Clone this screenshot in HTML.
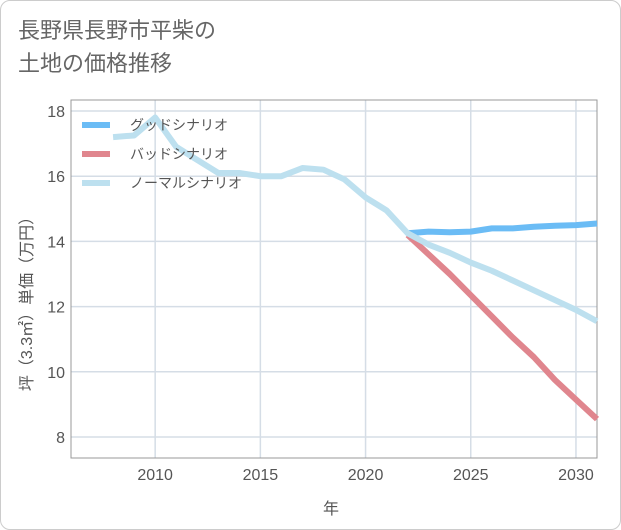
<!DOCTYPE html>
<html><head><meta charset="utf-8"><style>
body{margin:0;background:#fff;}
#wrap{position:relative;width:621px;height:530px;font-family:"Liberation Sans","Noto Sans CJK JP",sans-serif;}
.frame{position:absolute;left:0;top:0;width:619px;height:528px;border:1px solid #ccc;border-radius:10px;}
.title{position:absolute;left:18px;top:14px;font-size:22px;line-height:33px;color:#666;}
</style></head><body>
<div id="wrap">
<div class="frame"></div>
<div class="title">長野県長野市平柴の<br>土地の価格推移</div>
<svg id="svg" width="621" height="530" style="position:absolute;left:0;top:0"></svg>
</div>
<script>
const years=[2008,2009,2010,2011,2012,2013,2014,2015,2016,2017,2018,2019,2020,2021,2022,2023,2024,2025,2026,2027,2028,2029,2030,2031];
const normalVals=[17.2,17.25,17.8,16.9,16.5,16.1,16.1,16.0,16.0,16.25,16.2,15.9,15.35,14.95,14.25,13.9,13.65,13.35,13.1,12.8,12.5,12.2,11.9,11.55];
const goodYears=[2022,2023,2024,2025,2026,2027,2028,2029,2030,2031];
const goodVals=[14.25,14.3,14.28,14.3,14.4,14.4,14.45,14.48,14.5,14.55];
const badVals=[14.2,13.6,13.0,12.35,11.7,11.05,10.45,9.75,9.15,8.55];
const xTicks=[2010,2015,2020,2025,2030];
const yTicks=[8,10,12,14,16,18];
const legendLabels=["グッドシナリオ","バッドシナリオ","ノーマルシナリオ"];
const L=71,R=597,T=100,B=458;
const X=y=>L+(y-2006)*(R-L)/25;
const Y=v=>437+(8-v)*32.6;
const svg=document.getElementById('svg');
const NS='http://www.w3.org/2000/svg';
function mk(t,a){const e=document.createElementNS(NS,t);for(const k in a)e.setAttribute(k,a[k]);svg.appendChild(e);return e;}
let e;
xTicks.forEach(t=>{e=mk('line',{x1:X(t),x2:X(t),y1:T,y2:B,stroke:'#d5dde6','stroke-width':1.5});


e=mk('text',{x:X(t),y:B+22,'text-anchor':'middle','font-size':16,fill:'#555'});e.textContent=t;

});
yTicks.forEach(t=>{e=mk('line',{x1:L,x2:R,y1:Y(t),y2:Y(t),stroke:'#d5dde6','stroke-width':1.5});


e=mk('text',{x:L-6,y:Y(t)+6,'text-anchor':'end','font-size':16,fill:'#555'});e.textContent=t;

});
e=mk('rect',{x:L,y:T,width:R-L,height:B-T,fill:'none',stroke:'#999','stroke-width':1});


function line(xs,vs,c,name){const d=xs.map((x,i)=>(i?'L':'M')+X(x)+','+Y(vs[i])).join('');
const p=mk('path',{d:d,fill:'none',stroke:c,'stroke-width':6,'stroke-linejoin':'round'});

}
line(goodYears,goodVals,'#6bbcf5','good-scenario-line');
line(goodYears,badVals,'#e0868e','bad-scenario-line');
line(years,normalVals,'#bde0ef','normal-scenario-line');
const lc=['#6bbcf5','#e0868e','#bde0ef'];
legendLabels.forEach((s,i)=>{const y=125+i*29;
e=mk('line',{x1:82,x2:110,y1:y,y2:y,stroke:lc[i],'stroke-width':6});


e=mk('text',{x:130,y:y+5,'font-size':14,fill:'#555'});e.textContent=s;

});
e=mk('text',{x:331,y:514,'text-anchor':'middle','font-size':16,fill:'#555'});e.textContent='年';


e=mk('text',{x:0,y:0,'text-anchor':'middle','font-size':16,fill:'#555',transform:'translate(32,300) rotate(-90)'});e.textContent='坪（3.3㎡）単価（万円）';


</script>
</body></html>
